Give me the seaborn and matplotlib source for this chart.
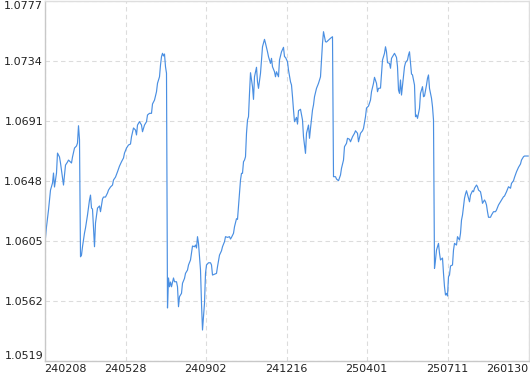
import matplotlib
matplotlib.use("Agg")
import matplotlib.pyplot as plt
import seaborn as sns
import pandas as pd

# trading-day index of each sampled point
day_index = [
    0, 2, 4, 6, 8, 9, 10, 12, 13, 15, 16, 18, 19, 21, 23, 24, 27, 28, 30, 32, 33, 34, 35,
    36, 37, 38, 40, 41, 43, 45, 46, 47, 48, 50, 51, 53, 55, 56, 58, 59, 61, 63, 64, 66, 68,
    69, 71, 73, 75, 77, 79,
    80, 82, 84, 86, 87, 89, 91, 92, 93, 95, 97, 98, 100, 102, 103, 105, 107, 108, 110, 112,
    113, 115, 116, 117, 118, 119, 120, 121, 122,
    123, 124, 125, 126, 127, 129, 130, 132, 133, 134, 135, 137, 138, 140, 141, 143, 144, 146,
    147, 148, 150, 151, 152, 153, 154, 156, 157, 158, 160, 161, 162, 164, 166, 167, 168,
    172, 173, 175, 177, 178, 180, 181, 183, 185, 186, 187, 189, 190, 192, 193, 194, 195, 196,
    197, 198, 199, 200, 201, 202, 203, 204, 205, 206, 208, 209, 210, 212, 213, 214, 216, 217,
    218, 220, 221, 223, 224, 226, 227, 228, 230, 231, 232, 234, 235, 237, 239, 240, 241, 243,
    244, 246, 247, 248, 249, 250, 252, 253, 254, 256, 258, 259, 261, 262, 264, 265, 266, 268,
    269, 270, 272, 274, 276, 277, 278, 279, 281, 282, 284, 286, 288,
    289, 291, 292, 294, 296, 297, 299, 300, 302, 303, 305, 306, 308, 310, 311, 313, 314, 316,
    318, 319, 321, 322, 324, 326, 327, 329, 330, 332, 333, 334, 336, 337, 338, 340, 341, 342,
    343, 345, 346, 347, 349, 350, 352, 353, 354, 355, 356, 357, 359, 360, 361, 363, 364, 365,
    366, 367, 368, 370, 371, 372, 373, 375, 376, 378, 379, 380, 382, 383, 384, 385, 387, 388,
    389,
    390, 391, 392, 394, 395, 396, 398, 399, 400, 401, 402, 403, 404, 405, 406, 408, 409, 410,
    412, 413, 415, 416, 417, 418, 420, 421, 422, 424, 425, 426, 428, 429, 430, 432, 433, 434,
    436, 437, 438, 440, 441, 442, 443, 444, 446, 447, 449, 451, 452, 454, 456, 457, 459, 460,
    462, 464, 466, 467, 469, 470, 472, 474, 476, 477, 479, 480, 484,
]

# value of the series at each sampled point
values = [
    1.05997, 1.06152, 1.06272, 1.06415, 1.06465, 1.06537, 1.06437, 1.06537, 1.06680, 1.06652,
    1.06609, 1.06501, 1.06451, 1.06594, 1.06616, 1.06630, 1.06609, 1.06652, 1.06716, 1.06731,
    1.06752, 1.06876, 1.06776,
    1.05937, 1.05949, 1.06009, 1.06107, 1.06143, 1.06236, 1.06344, 1.06379, 1.06286, 1.06279,
    1.06009, 1.06179, 1.06286, 1.06301, 1.06260, 1.06351, 1.06365, 1.06365, 1.06394, 1.06415,
    1.06437, 1.06451, 1.06487, 1.06508, 1.06546, 1.06587, 1.06618, 1.06645,
    1.06680, 1.06716, 1.06738, 1.06745, 1.06797, 1.06860, 1.06845, 1.06810, 1.06881, 1.06905,
    1.06881, 1.06833, 1.06881, 1.06905, 1.06953, 1.06965, 1.06965, 1.07032, 1.07060, 1.07120,
    1.07180, 1.07227, 1.07311, 1.07371, 1.07395, 1.07376, 1.07390, 1.07299, 1.07252,
    1.05570, 1.05785, 1.05722, 1.05756, 1.05722, 1.05785, 1.05758, 1.05758, 1.05722, 1.05579,
    1.05651, 1.05675, 1.05747, 1.05782, 1.05818, 1.05842, 1.05878, 1.05914, 1.05962, 1.06014,
    1.06009, 1.06021, 1.06000, 1.06081, 1.06033, 1.05842, 1.05603, 1.05412, 1.05605, 1.05818,
    1.05878, 1.05894, 1.05894, 1.05878, 1.05806,
    1.05818, 1.05866, 1.05949, 1.05980, 1.06009, 1.06045, 1.06081, 1.06076, 1.06081, 1.06064,
    1.06076, 1.06105, 1.06152, 1.06210, 1.06205, 1.06296, 1.06392, 1.06487, 1.06535, 1.06535,
    1.06618, 1.06630, 1.06654, 1.06822, 1.06917, 1.06941, 1.07108, 1.07256, 1.07156, 1.07065,
    1.07227, 1.07295, 1.07191, 1.07144, 1.07252, 1.07347, 1.07442, 1.07495, 1.07467, 1.07406,
    1.07371, 1.07323, 1.07359, 1.07299, 1.07263, 1.07227, 1.07263, 1.07227, 1.07347, 1.07406,
    1.07438, 1.07371, 1.07366, 1.07335, 1.07275, 1.07191, 1.07168, 1.07084, 1.06989, 1.06905,
    1.06936, 1.06888, 1.06984, 1.06994, 1.06917, 1.06797, 1.06678, 1.06822, 1.06881, 1.06786,
    1.06857, 1.06989, 1.07025, 1.07084, 1.07144, 1.07180, 1.07227, 1.07347, 1.07467, 1.07550,
    1.07478, 1.07476, 1.07490, 1.07503, 1.07514,
    1.06511, 1.06511, 1.06494, 1.06482, 1.06523, 1.06571, 1.06630, 1.06726, 1.06750, 1.06786,
    1.06779, 1.06761, 1.06797, 1.06822, 1.06840, 1.06822, 1.06761, 1.06822, 1.06840, 1.06857,
    1.06941, 1.07003, 1.07017, 1.07060, 1.07120, 1.07180, 1.07223, 1.07180, 1.07120, 1.07144,
    1.07146, 1.07252, 1.07347, 1.07395, 1.07442, 1.07406, 1.07328, 1.07323, 1.07288, 1.07359,
    1.07383, 1.07395, 1.07366, 1.07299, 1.07132, 1.07108, 1.07204, 1.07096, 1.07227, 1.07299,
    1.07328, 1.07347, 1.07383, 1.07406, 1.07323, 1.07247, 1.07240, 1.07168, 1.06941, 1.06953,
    1.06929, 1.07001, 1.07108, 1.07156, 1.07084, 1.07089, 1.07168, 1.07216, 1.07240, 1.07144,
    1.07073, 1.07012, 1.06917,
    1.05854, 1.05914, 1.05985, 1.06033, 1.05962, 1.05914, 1.05928, 1.05818, 1.05722, 1.05663,
    1.05675, 1.05656, 1.05794, 1.05806, 1.05871, 1.05878, 1.05985, 1.06033, 1.06021, 1.06081,
    1.06057, 1.06105, 1.06200, 1.06236, 1.06356, 1.06387, 1.06410, 1.06356, 1.06331, 1.06379,
    1.06410, 1.06403, 1.06428, 1.06451, 1.06439, 1.06415, 1.06403, 1.06367, 1.06320, 1.06344,
    1.06331, 1.06308, 1.06260, 1.06220, 1.06220, 1.06236, 1.06260, 1.06260, 1.06272, 1.06308,
    1.06331, 1.06344, 1.06367, 1.06372, 1.06403, 1.06439, 1.06428, 1.06463, 1.06482, 1.06506,
    1.06546, 1.06578, 1.06602, 1.06630, 1.06654, 1.06659, 1.06659,
]

x_tick_days = [0, 81, 161, 242, 322, 403, 484]
x_tick_labels = ["240208", "240528", "240902", "241216", "250401", "250711", "260130"]
y_ticks = [1.0519, 1.0562, 1.0605, 1.0648, 1.0691, 1.0734, 1.0777]
y_tick_labels = ["1.0519", "1.0562", "1.0605", "1.0648", "1.0691", "1.0734", "1.0777"]

df = pd.DataFrame({"day": day_index, "value": values})

sns.set_style("white")
plt.rcParams["font.family"] = ["DejaVu Sans"]

W, H = 530, 374
fig = plt.figure(figsize=(W / 100, H / 100), dpi=100)
ax = fig.add_axes([44.5 / W, 13 / H, 484 / W, 360 / H])

sns.lineplot(data=df, x="day", y="value", ax=ax, color="#4a8fe2", linewidth=0.85,
             estimator=None, sort=False)

ax.set_xlim(x_tick_days[0], x_tick_days[-1])
ax.set_ylim(y_ticks[0], y_ticks[-1])
ax.set_xticks(x_tick_days)
ax.set_xticklabels(x_tick_labels)
ax.set_yticks(y_ticks)
ax.set_yticklabels(y_tick_labels)
ax.set_xlabel("")
ax.set_ylabel("")

ax.grid(True, color="#dcdcdc", linestyle=(0, (4, 3)), linewidth=0.8)
ax.set_axisbelow(True)

ax.tick_params(axis="both", length=0, labelsize=8, labelcolor="#222222")
ax.tick_params(axis="y", pad=1)
ax.tick_params(axis="x", pad=2)

xl = ax.get_xticklabels()
xl[0].set_horizontalalignment("left")
xl[-1].set_horizontalalignment("right")
yl = ax.get_yticklabels()
yl[0].set_verticalalignment("bottom")
yl[-1].set_verticalalignment("top")

for side in ["left", "bottom"]:
    ax.spines[side].set_color("#c8c8c8")
    ax.spines[side].set_linewidth(1.0)
for side in ["top", "right"]:
    ax.spines[side].set_color("#dedede")
    ax.spines[side].set_linewidth(1.0)

fig.savefig("out.png", dpi=100)
